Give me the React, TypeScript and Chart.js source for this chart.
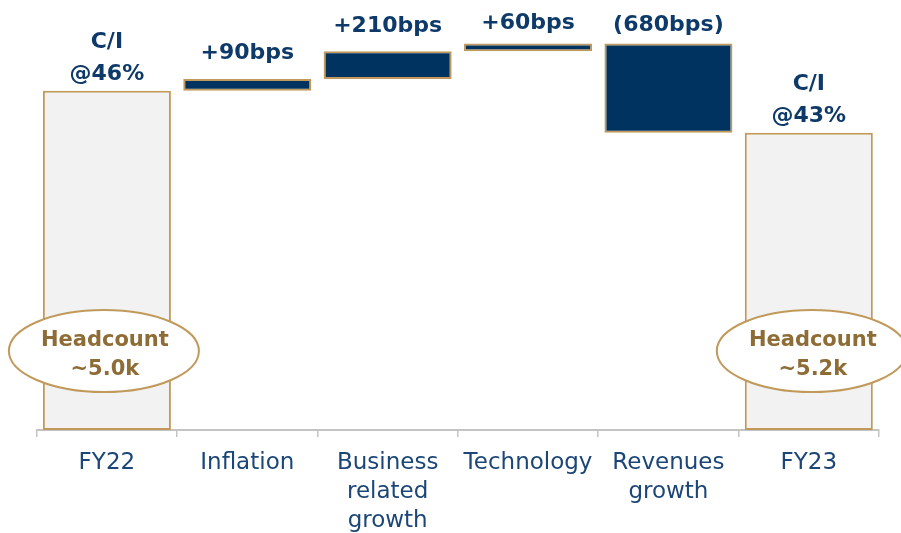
import React, { useEffect, useRef } from 'react';
import { Chart, registerables } from 'chart.js';

Chart.register(...registerables);

// ---- data ----
const categories: string[][] = [
  ['FY22'],
  ['Inflation'],
  ['Business', 'related', 'growth'],
  ['Technology'],
  ['Revenues', 'growth'],
  ['FY23'],
];
const startValue = 46; // C/I FY22 (%)
const deltas = [0.9, 2.1, 0.6, -6.8]; // percentage points
const endValue = 42.8; // C/I FY23 (%)
const topLabels: string[][] = [
  ['C/I', '@46%'],
  ['+90bps'],
  ['+210bps'],
  ['+60bps'],
  ['(680bps)'],
  ['C/I', '@43%'],
];
const headcountLabels: (string[] | null)[] = [
  ['Headcount', '~5.0k'],
  null,
  null,
  null,
  null,
  ['Headcount', '~5.2k'],
];

// ---- layout / style ----
const axisMin = 20.2;
const axisMax = 52.9;
const labelGaps = [11, 20, 19, 14, 12, 11];
const ellipseDx = [-3, 0, 0, 0, 0, 3];
const NAVY = '#00335F';
const TOTAL_FILL = '#F2F2F2';
const GOLD = '#C19A5B';
const GOLD_TEXT = '#8E6C35';
const LABEL_NAVY = '#0E3A6A';
const CAT_NAVY = '#1B4677';
const FONT = "'DejaVu Sans', sans-serif";

function buildBars(): [number, number][] {
  const bars: [number, number][] = [[axisMin, startValue]];
  let c = startValue;
  for (const d of deltas) {
    const n = c + d;
    bars.push([Math.min(c, n), Math.max(c, n)]);
    c = n;
  }
  bars.push([axisMin, endValue]);
  return bars;
}

const labelPlugin = {
  id: 'waterfallLabels',
  afterDatasetsDraw(chart: any) {
    const ctx = chart.ctx;
    const meta = chart.getDatasetMeta(0);
    const area = chart.chartArea;
    ctx.save();
    meta.data.forEach((el: any, i: number) => {
      const x = el.x;
      const top = Math.min(el.y, el.base);
      // top labels
      const lines = topLabels[i];
      ctx.font = `bold 22px ${FONT}`;
      ctx.fillStyle = LABEL_NAVY;
      ctx.textAlign = 'center';
      ctx.textBaseline = 'alphabetic';
      const lh = 32;
      const lastBase = top - labelGaps[i];
      lines.forEach((t, j) => {
        ctx.fillText(t, x, lastBase - (lines.length - 1 - j) * lh);
      });
      // headcount ellipses
      const hc = headcountLabels[i];
      if (hc) {
        const cx = x + ellipseDx[i];
        const cy = area.bottom - 79;
        ctx.beginPath();
        ctx.ellipse(cx, cy, 95, 41, 0, 0, Math.PI * 2);
        ctx.fillStyle = '#FFFFFF';
        ctx.fill();
        ctx.lineWidth = 2;
        ctx.strokeStyle = GOLD;
        ctx.stroke();
        ctx.font = `bold 21px ${FONT}`;
        ctx.fillStyle = GOLD_TEXT;
        ctx.fillText(hc[0], cx + 1, cy - 5);
        ctx.fillText(hc[1], cx + 1, cy + 24);
      }
    });
    ctx.restore();
  },
};

export default function App() {
  const ref = useRef<HTMLCanvasElement | null>(null);
  useEffect(() => {
    if (!ref.current) return;
    const bars = buildBars();
    const bg = bars.map((_, i) => (i === 0 || i === bars.length - 1 ? TOTAL_FILL : NAVY));
    const chart = new Chart(ref.current, {
      type: 'bar',
      data: {
        labels: categories,
        datasets: [
          {
            data: bars as any,
            backgroundColor: bg,
            borderColor: GOLD,
            borderWidth: 2,
            borderSkipped: false,
            barPercentage: 0.912,
            categoryPercentage: 1,
          },
        ],
      },
      options: {
        animation: false,
        responsive: true,
        maintainAspectRatio: false,
        layout: { padding: { left: 36.7, right: 22, top: 0, bottom: 0 } },
        plugins: {
          legend: { display: false },
          tooltip: { enabled: false },
        },
        scales: {
          x: {
            afterFit: (scale: any) => {
              scale.height = 103;
            },
            grid: {
              display: true,
              drawOnChartArea: false,
              drawTicks: true,
              tickLength: 7,
              offset: true,
              color: '#C4C4C4',
              lineWidth: 1.5,
            },
            border: { display: true, color: '#C4C4C4', width: 2 },
            ticks: {
              autoSkip: false,
              maxRotation: 0,
              minRotation: 0,
              padding: 11,
              color: CAT_NAVY,
              font: { family: FONT, size: 23, lineHeight: 1.27 },
            },
          },
          y: {
            display: false,
            min: axisMin,
            max: axisMax,
          },
        },
      },
      plugins: [labelPlugin],
    });
    return () => chart.destroy();
  }, []);
  return (
    <div style={{ position: 'fixed', left: 0, top: 0, width: 901, height: 533, background: '#FFFFFF' }}>
      <canvas ref={ref} />
    </div>
  );
}
